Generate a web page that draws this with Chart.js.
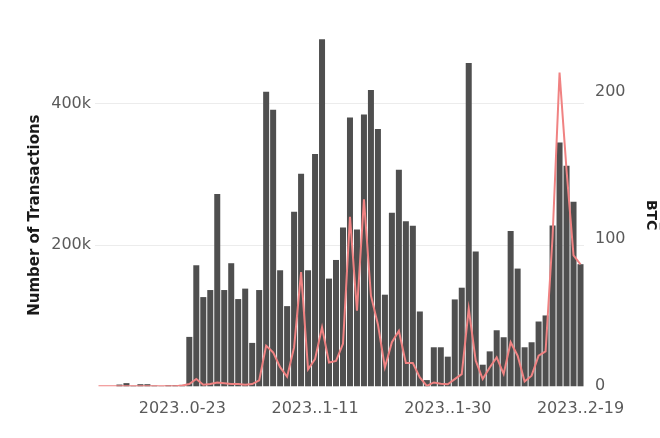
<!DOCTYPE html>
<html>
<head>
<meta charset="utf-8">
<script src="https://cdn.jsdelivr.net/npm/chart.js@4.4.1/dist/chart.umd.min.js"></script>
<style>
    html, body { margin: 0; padding: 0; background: #fff; }
    #wrap { width: 660px; height: 438px; }
</style>
</head>
<body>
<div id="wrap"><canvas id="grafico" width="660" height="438"></canvas></div>
<script>
// daily categories, 2023-10-11 .. 2023-12-19
const dias = [];
for (let i = 0; i < 70; i++) {
    dias.push(new Date(Date.UTC(2023, 9, 11 + i)).toISOString().slice(0, 10));
}

const transacciones = [
    0, 0, 0, 2500, 4500, 700, 3000, 3000, 1000, 300,
    1500, 1500, 2000, 70000, 171500, 126400, 136400, 272600, 136400, 174400,
    123600, 138400, 61500, 136400, 417400, 391700, 164400, 113600, 247400, 301000,
    164400, 329000, 491800, 152600, 179000, 225000, 380800, 222300, 385000, 420000,
    364700, 129800, 246000, 306800, 234000, 227500, 106000, 8800, 55300, 55300,
    42000, 123100, 139700, 458000, 191000, 30600, 49500, 79400, 69500, 220000,
    166800, 55300, 62400, 91800, 100400, 228000, 345600, 312500, 261600, 173000
];

const btc = [
    0, 0, 0, 0, 0, 0, 0, 0, 0, 0,
    0, 0, 0.5, 1.5, 5, 1, 1.5, 2.5, 2, 1.5,
    1.5, 1, 1.5, 4, 27.6, 23, 13, 6.5, 26.4, 77.5,
    11.5, 18.5, 40, 16.2, 17.2, 28.8, 115, 51.4, 127, 61.5,
    42, 12.8, 29.9, 37.6, 15.8, 15.8, 6, 0.3, 2.6, 1.8,
    1.4, 4.9, 8.3, 52.6, 17.4, 4.9, 12.8, 19.6, 8.3, 29.9,
    20.8, 3.3, 7.2, 20.8, 23.7, 101.4, 213, 146.8, 88.9, 82.8
];

const fechasEje = ['2023-10-23', '2023-11-11', '2023-11-30', '2023-12-19'];
const etiquetasEje = ['2023..0-23', '2023..1-11', '2023..1-30', '2023..2-19'];
const ticksTx = [200000, 400000];
const ticksBtc = [0, 100, 200];

const fuente = { family: 'DejaVu Sans', size: 16 };
const gris = '#5a5a5a';

new Chart(document.getElementById('grafico'), {
    data: {
        labels: dias,
        datasets: [
            { type: 'line', label: 'BTC', data: btc, yAxisID: 'yBtc', borderColor: '#f08282', borderWidth: 2, pointRadius: 0, tension: 0, order: 0 },
            { type: 'bar', label: 'Number of Transactions', data: transacciones, yAxisID: 'yTx', backgroundColor: '#4f4f4f', barPercentage: 0.86, categoryPercentage: 1, order: 1, clip: false }
        ]
    },
    options: {
        responsive: false,
        animation: false,
        layout: { padding: { top: 44, bottom: 6.5, left: 0, right: 0 } },
        plugins: { legend: { display: false }, tooltip: { enabled: false } },
        scales: {
            x: {
                grid: { display: false, drawTicks: false },
                border: { display: false },
                ticks: {
                    autoSkip: false, maxRotation: 0, minRotation: 0, padding: 13, color: gris, font: fuente,
                    callback: function (v) {
                        const k = fechasEje.indexOf(this.getLabelForValue(v));
                        return k >= 0 ? etiquetasEje[k] : '';
                    }
                }
            },
            yTx: {
                position: 'left', min: 0, max: 485000,
                afterBuildTicks: s => { s.ticks = ticksTx.map(v => ({ value: v })); },
                afterFit: s => { s.width = 95; },
                grid: { color: '#ececec', drawTicks: false },
                border: { display: false },
                ticks: { padding: 4, color: gris, font: fuente, callback: v => (v / 1000) + 'k' },
                title: { display: true, text: 'Number of Transactions', color: '#1a1a1a', font: { family: 'DejaVu Sans', size: 15, weight: 'bold' }, padding: { top: 26, bottom: 0 } }
            },
            yBtc: {
                position: 'right', min: 0, max: 232.4,
                afterBuildTicks: s => { s.ticks = ticksBtc.map(v => ({ value: v })); },
                afterFit: s => { s.width = 76; },
                grid: { display: false, drawTicks: false },
                border: { display: false },
                ticks: { padding: 11, color: gris, font: fuente },
                title: { display: true, text: 'BTC\u0305', color: '#1a1a1a', font: { family: 'DejaVu Sans', size: 14, weight: 'bold' }, padding: { top: 1, bottom: 0 } }
            }
        }
    }
});
</script>
</body>
</html>
